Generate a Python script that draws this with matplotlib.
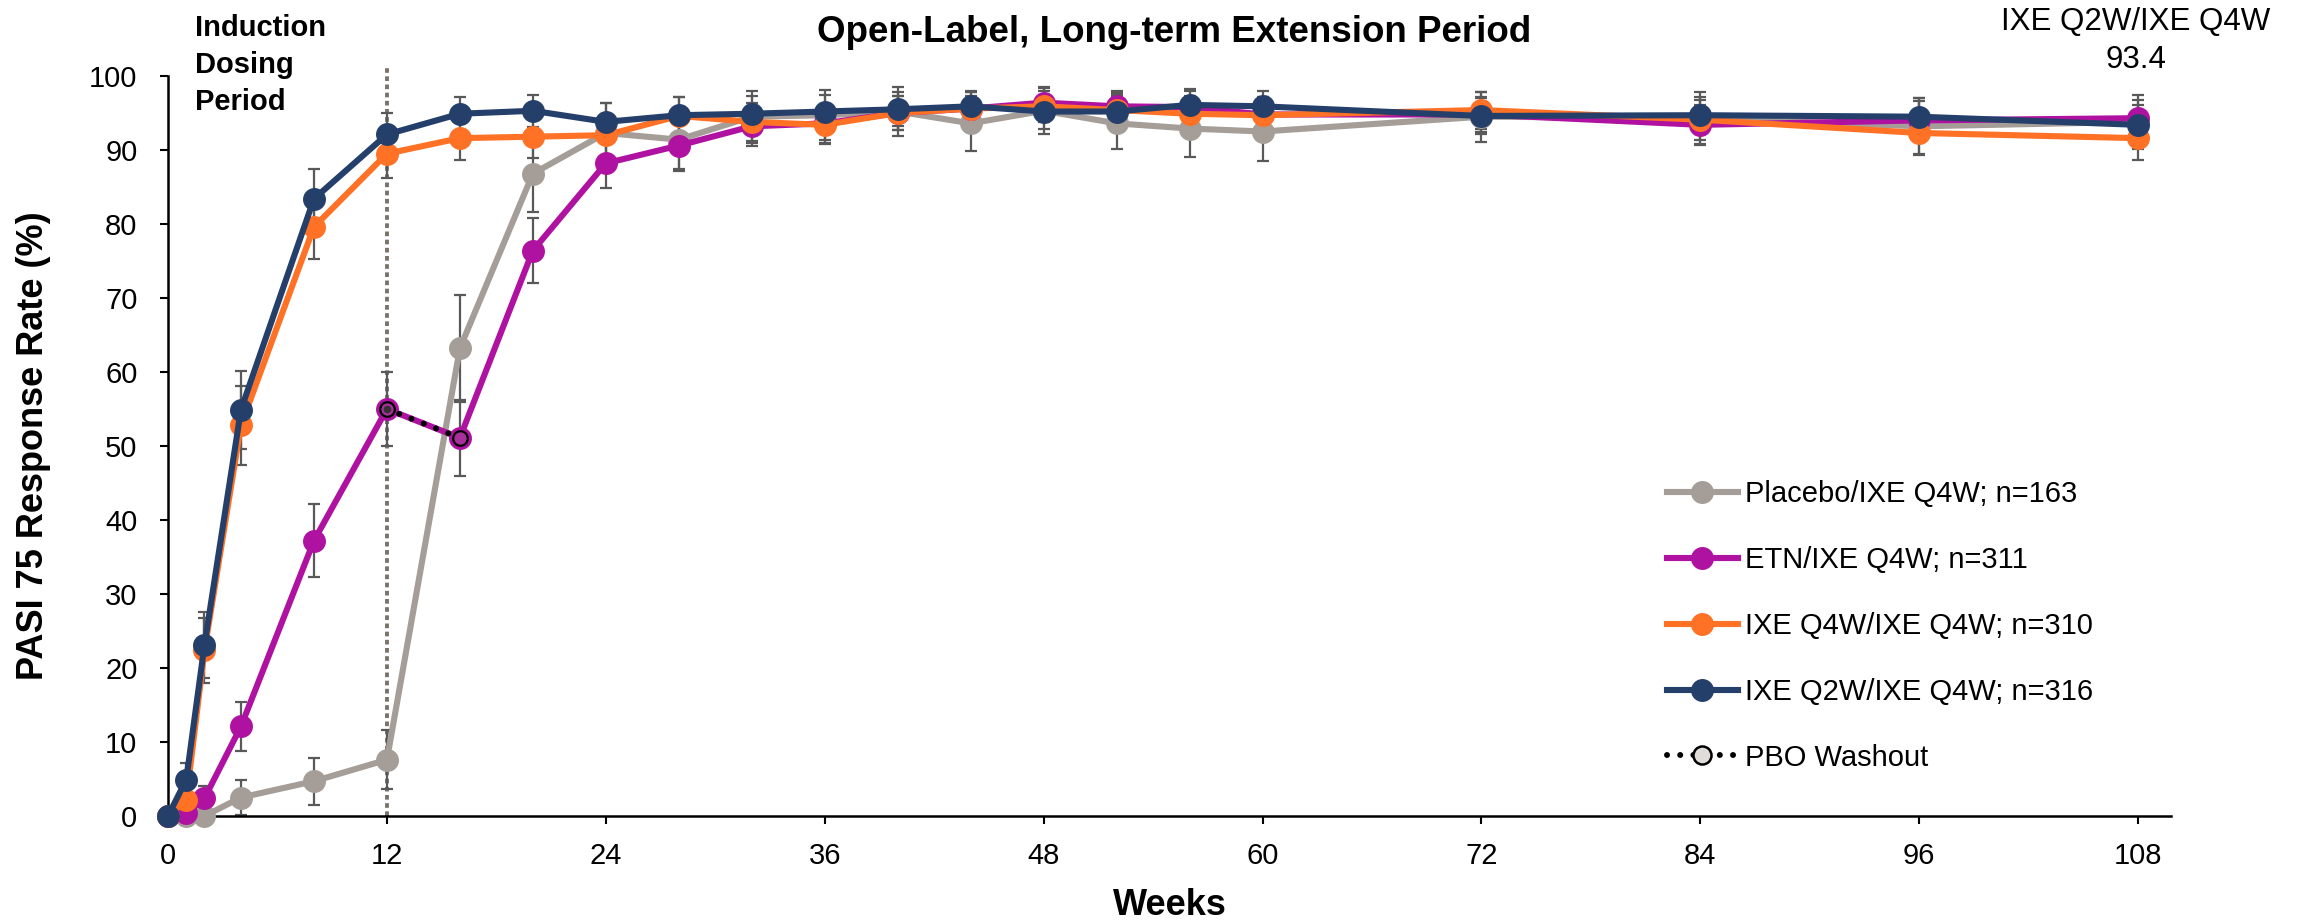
import matplotlib
matplotlib.use("Agg")
import matplotlib.pyplot as plt
from matplotlib.lines import Line2D
import numpy as np

plt.rcParams['font.family'] = ['Liberation Sans', 'DejaVu Sans']

weeks = [0, 1, 2, 4, 8, 12, 16, 20, 24, 28, 32, 36, 40, 44, 48, 52, 56, 60, 72, 84, 96, 108]

placebo = [0, 0, 0, 2.5, 4.7, 7.6, 63.2, 86.8, 92.3, 91.4, 94.5, 94.7, 95.2, 93.6, 95.3, 93.6, 92.9, 92.5, 94.5, 94.3, 93.2, 93.8]
etn = [0, 0.4, 2.4, 12.1, 37.2, 55.0, 51.1, 76.4, 88.2, 90.6, 93.2, 93.6, 95.0, 95.6, 96.4, 95.9, 95.8, 94.8, 94.8, 93.4, 94.0, 94.3]
ixe_q4w = [0, 2.2, 22.4, 52.8, 79.6, 89.5, 91.6, 91.8, 92.0, 94.6, 93.8, 93.4, 95.0, 95.6, 95.9, 95.4, 94.9, 94.7, 95.4, 94.1, 92.3, 91.6]
ixe_q2w = [0, 4.9, 23.1, 54.9, 83.4, 92.1, 94.9, 95.3, 93.8, 94.7, 94.9, 95.2, 95.5, 95.9, 95.2, 95.2, 96.1, 95.9, 94.6, 94.7, 94.5, 93.4]

err_placebo = [0, 0.5, 0.5, 2.3, 3.2, 4.0, 7.2, 5.2, 4.0, 4.2, 3.5, 3.4, 3.3, 3.7, 3.2, 3.5, 3.8, 4.0, 3.4, 3.5, 3.8, 3.7]
err_etn = [0, 0.7, 1.7, 3.3, 4.9, 5.0, 5.1, 4.4, 3.4, 3.1, 2.7, 2.6, 2.3, 2.2, 2.0, 2.1, 2.2, 2.3, 2.4, 2.7, 2.6, 2.5]
err_q4w = [0, 1.6, 4.4, 5.3, 4.3, 3.3, 3.0, 2.9, 2.8, 2.5, 2.6, 2.6, 2.3, 2.2, 2.1, 2.3, 2.4, 2.5, 2.5, 2.7, 3.0, 3.0]
err_q2w = [0, 2.3, 4.5, 5.3, 4.0, 2.9, 2.3, 2.2, 2.6, 2.4, 2.4, 2.3, 2.3, 2.1, 2.3, 2.3, 2.1, 2.1, 2.4, 2.5, 2.5, 2.7]

labels = ["Placebo/IXE Q4W; n=163", "ETN/IXE Q4W; n=311",
          "IXE Q4W/IXE Q4W; n=310", "IXE Q2W/IXE Q4W; n=316"]
colors = ['#A59D97', '#AF12A0', '#FF7125', '#253F6B']
series = [placebo, etn, ixe_q4w, ixe_q2w]
errors = [err_placebo, err_etn, err_q4w, err_q2w]

washout_weeks = [12, 16]
final_label = "IXE Q2W/IXE Q4W\n93.4"

W, H = 2300, 924
fig = plt.figure(figsize=(W / 100, H / 100), dpi=100)
ax = fig.add_axes([168 / W, 1 - 816 / H, (2171 - 168) / W, (816 - 76) / H])

LW = 4.4
MS = 15.5

# vertical dotted line at week 12
ax.plot([12, 12], [0, 101.5], color='#7A736C', lw=2.8, ls=(0, (1.2, 0.9)),
        zorder=1, clip_on=False)

for y, e in zip(series, errors):
    ax.errorbar(weeks, y, yerr=e, fmt='none', ecolor='#595959', elinewidth=1.6,
                capsize=4.5, capthick=1.6, zorder=2, clip_on=False)
for i, (y, c, lab) in enumerate(zip(series, colors, labels)):
    ax.plot(weeks, y, color=c, lw=LW, marker='o', ms=MS, mec=c, mfc=c,
            zorder=3 + i, clip_on=False, label=lab)

# PBO washout segment (ETN arm, weeks 12-16)
idx = [weeks.index(w) for w in washout_weeks]
wy = [etn[i] for i in idx]
ax.plot(washout_weeks, wy, color='black', lw=4.3, ls=(0, (0.01, 2.2)),
        dash_capstyle='round', zorder=8)
ax.plot(washout_weeks, wy, ls='none', marker='o', ms=10.5, mfc='#A8309A',
        mec='black', mew=1.6, zorder=9)
ax.plot(washout_weeks[:1], wy[:1], ls='none', marker='o', ms=4.5, mfc='#333333',
        mec='#333333', zorder=10)

ax.set_xlim(0, 109.8)
ax.set_ylim(0, 100)
ax.set_xticks(range(0, 109, 12))
ax.set_yticks(range(0, 101, 10))
for s in ['top', 'right']:
    ax.spines[s].set_visible(False)
for s in ['left', 'bottom']:
    ax.spines[s].set_linewidth(1.8)
ax.tick_params(axis='both', labelsize=21, length=6, width=1.5, direction='out')
ax.tick_params(axis='x', pad=13)
ax.tick_params(axis='y', pad=16)

fig.text(34 / W, 1 - 446 / H, "PASI 75 Response Rate (%)", rotation=90,
         ha='center', va='center', fontsize=26, fontweight='bold')
fig.text(1170 / W, 1 - 915 / H, "Weeks", ha='center', va='baseline',
         fontsize=26, fontweight='bold')
fig.text(1174 / W, 1 - 42 / H, "Open-Label, Long-term Extension Period",
         ha='center', va='baseline', fontsize=26.5, fontweight='bold')
fig.text(195 / W, 1 - 14 / H, "Induction\nDosing\nPeriod", ha='left', va='top',
         fontsize=21, fontweight='bold', linespacing=1.42)
fig.text(2136 / W, 1 - 7 / H, final_label, ha='center', va='top',
         fontsize=22.5, linespacing=1.33, multialignment='center')

handles = [Line2D([0], [0], color=c, lw=LW, marker='o', ms=MS, mfc=c, mec=c)
           for c in colors]
handles.append(Line2D([0], [0], color='black', lw=4.3, ls=(0, (0.01, 2.2)),
                      dash_capstyle='round', marker='o', ms=13, mfc='#E0DCD8',
                      mec='black', mew=1.8))
leg_labels = labels + ["PBO Washout"]
fig.legend(handles, leg_labels, loc='upper left',
           bbox_to_anchor=(1667 / W, 1 - 480 / H), frameon=False, fontsize=21,
           handlelength=2.43, handletextpad=0.25, labelspacing=1.30,
           borderpad=0, borderaxespad=0)

fig.savefig('out.png', dpi=100)
